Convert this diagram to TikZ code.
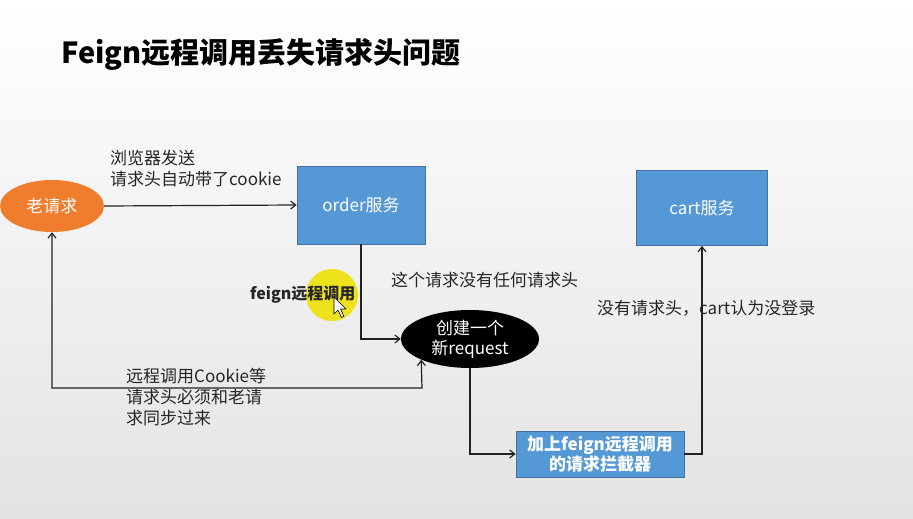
\documentclass[tikz,border=0pt]{standalone}
\usepackage{fontspec}
\setmainfont{Noto Sans CJK SC}
\usetikzlibrary{shapes.geometric,arrows.meta}
\definecolor{boxblue}{HTML}{5598D6}
\definecolor{boxedge}{HTML}{41719C}
\definecolor{orng}{HTML}{EF7D2D}
\definecolor{lnc}{HTML}{222222}
\definecolor{hilite}{HTML}{EDE21C}
\begin{document}
\begin{tikzpicture}[x=1pt,y=-1pt,
  svc/.style={rectangle, fill=boxblue, draw=boxedge, line width=0.8pt, text=white, font=\fontsize{17}{21}\selectfont, inner sep=0pt},
  oval/.style={ellipse, inner sep=0pt, text=white, align=center, font=\fontsize{17}{20}\selectfont},
  lbl/.style={anchor=west, align=left, inner sep=0pt, text=black!85, font=\fontsize{17}{21}\selectfont},
  arr/.style={draw=lnc, line width=1.2pt, -{Straight Barb[length=5pt,width=8pt]}},
  arr2/.style={draw=lnc, line width=1.2pt, {Straight Barb[length=5pt,width=8pt]}-{Straight Barb[length=5pt,width=8pt]}}
]
\shade[top color=white, bottom color=black!11] (0,0) rectangle (913,519);
\useasboundingbox (0,0) rectangle (913,519);

\node[anchor=west, inner sep=0pt, font=\fontsize{29}{34}\selectfont\bfseries] (title) at (61,54) {Feign远程调用丢失请求头问题};

\node[oval, fill=orng, minimum width=104, minimum height=52] (old) at (52,206) {老请求};
\node[svc, minimum width=128, minimum height=78] (order) at (361,205) {order服务};
\node[svc, minimum width=131, minimum height=75] (cart) at (702,208) {cart服务};
\node[oval, fill=black, minimum width=138, minimum height=58] (newreq) at (470,339) {创建一个\\新request};
\node[svc, minimum width=168, minimum height=46, align=center, font=\fontsize{17}{20}\selectfont\bfseries] (icpt) at (600,454) {加上feign远程调用\\的请求拦截器};

\node[lbl] (l1) at (110,169) {浏览器发送\\请求头自动带了cookie};
\fill[hilite] (332,295) circle (26);
\node[lbl, font=\fontsize{16}{20}\selectfont\bfseries] (l2) at (250,295) {feign远程调用};
\draw[fill=white, line width=0.6pt, line join=round] (334,297) -- ++(0,17) -- ++(4,-4) -- ++(3.5,7.5) -- ++(2.5,-1.2) -- ++(-3.5,-7.3) -- ++(5.5,0) -- cycle;
\node[lbl] (l3) at (391,280) {这个请求没有任何请求头};
\node[lbl] (l4) at (126,397) {远程调用Cookie等\\请求头必须和老请\\求同步过来};
\node[lbl] (l5) at (597,308) {没有请求头，cart认为没登录};

\coordinate (rp) at (422,388);
\draw[arr] (old.east) -- (order.west);
\draw[arr] (order.south) |- (newreq.west);
\draw[arr] (newreq.south) |- (icpt.west);
\draw[arr] (icpt.east) -| (cart.south);
\draw[arr2] (old.south) |- (rp) -- (newreq.203.6);
\end{tikzpicture}
\end{document}
